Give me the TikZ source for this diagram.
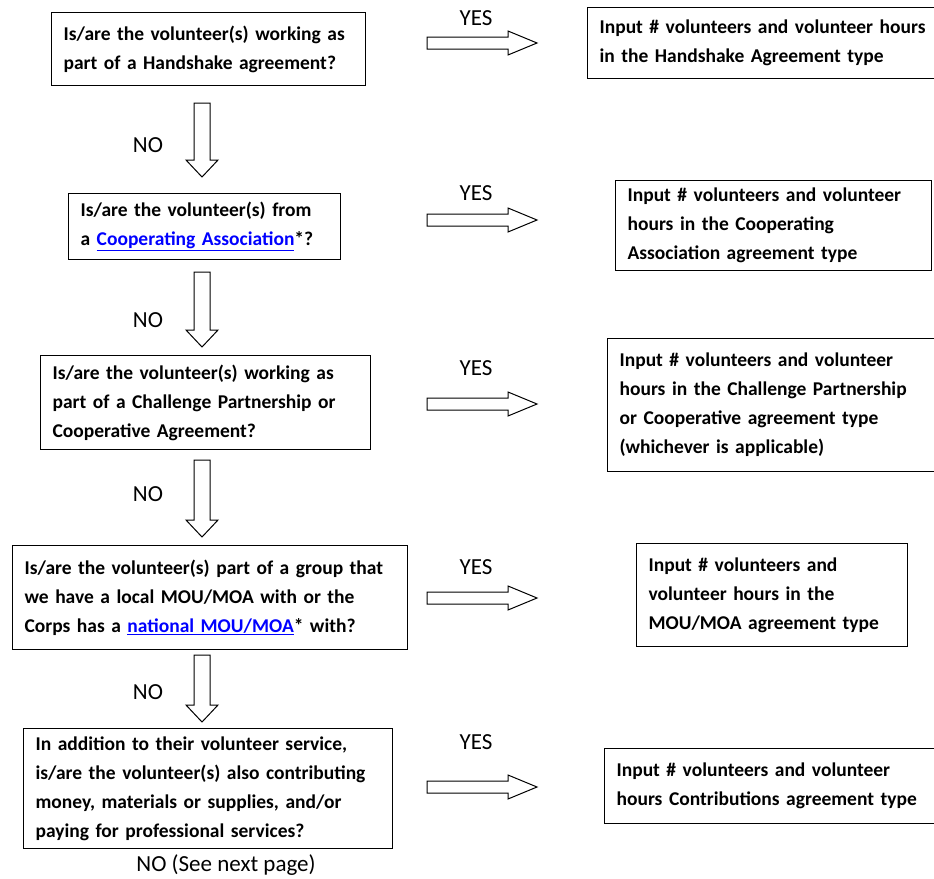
\documentclass[tikz,border=0pt]{standalone}
\usepackage{fontspec}
\setmainfont{Carlito}
\usepackage{tikz}

% blue underlined link text
\newcommand{\weblink}[1]{\textcolor{blue}{\underline{#1}}}

\tikzset{
  qbox/.style={draw=black, line width=1.2pt, anchor=north west, align=left,
    inner xsep=12pt, inner ysep=0pt, fill=white,
    font=\fontsize{19.5}{29}\selectfont\bfseries},
  lbl/.style={font=\fontsize{23}{26}\selectfont},
  blockarrow/.style={draw=black, line width=1pt, fill=white, line join=miter},
}

\begin{document}
\begin{tikzpicture}[x=1pt, y=-1pt]

  % page frame (934 x 878)
  \clip (0,0) rectangle (934,878);
  \fill[white] (0,0) rectangle (934,878);

  % question boxes (left column)
  \node[qbox, text width=290pt, minimum height=73pt] (q1) at (51,12)
    {Is/are the volunteer(s) working as\\part of a Handshake agreement?};
  \node[qbox, text width=248pt, minimum height=66pt] (q2) at (68,193)
    {Is/are the volunteer(s) from\\a \weblink{Cooperating Association}*?};
  \node[qbox, text width=306pt, minimum height=94pt] (q3) at (40,355)
    {Is/are the volunteer(s) working as\\part of a Challenge Partnership or\\Cooperative Agreement?};
  \node[qbox, text width=371pt, minimum height=104pt] (q4) at (12,545)
    {Is/are the volunteer(s) part of a group that\\we have a local MOU/MOA with or the\\Corps has a \weblink{national MOU/MOA}* with?};
  \node[qbox, text width=345pt, minimum height=120pt] (q5) at (23,728)
    {In addition to their volunteer service,\\is/are the volunteer(s) also contributing\\money, materials or supplies, and/or\\paying for professional services?};

  % answer boxes (right column)
  \node[qbox, text width=336pt, minimum height=71pt] (a1) at (587,7)
    {Input \# volunteers and volunteer hours\\in the Handshake Agreement type};
  \node[qbox, text width=292pt, minimum height=90pt] (a2) at (615,180)
    {Input \# volunteers and volunteer\\hours in the Cooperating\\Association agreement type};
  \node[qbox, text width=316pt, minimum height=133pt] (a3) at (607,338)
    {Input \# volunteers and volunteer\\hours in the Challenge Partnership\\or Cooperative agreement type\\(whichever is applicable)};
  \node[qbox, text width=247pt, minimum height=103pt] (a4) at (636,543)
    {Input \# volunteers and\\volunteer hours in the\\MOU/MOA agreement type};
  \node[qbox, text width=316pt, minimum height=75pt] (a5) at (604,748)
    {Input \# volunteers and volunteer\\hours Contributions agreement type};

  % YES arrows (block arrows pointing right)
  \foreach \y [count=\i] in {43,220,404,598,787} {
    \draw[blockarrow] (427,{\y-6}) -- (508,{\y-6}) -- (508,{\y-12}) -- (537,\y)
      -- (508,{\y+12}) -- (508,{\y+6}) -- (427,{\y+6}) -- cycle;
  }
  \foreach \y [count=\i] in {18,193,368,567,742}
    \node[lbl] (yes\i) at (476,\y) {YES};

  % NO arrows (block arrows pointing down)
  \foreach \t/\b in {103/177, 272/347, 460/537, 655/722} {
    \draw[blockarrow] (194,\t) -- (210,\t) -- (210,{\b-17}) -- (218,{\b-17})
      -- (202,\b) -- (186,{\b-17}) -- (194,{\b-17}) -- cycle;
  }
  \foreach \y [count=\i] in {145,320,494,692}
    \node[lbl] (no\i) at (148,\y) {NO};

  \node[lbl] (nolast) at (226,865) {NO (See next page)};

\end{tikzpicture}
\end{document}
